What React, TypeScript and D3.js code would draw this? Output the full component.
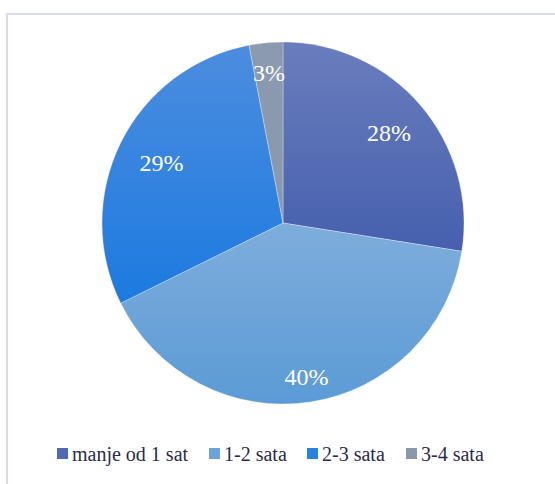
import React from "react";
import * as d3 from "d3";

const categories = ["manje od 1 sat", "1-2 sata", "2-3 sata", "3-4 sata"];
const values = [27.5, 40.2, 29.3, 3.0];
const gradTop = ["#6a7dbd", "#7eaddb", "#4c8ddf", "#8c9ab0"];
const gradBottom = ["#4660ae", "#5b9bd6", "#1c7ae0", "#8a98ae"];
const legendColors = ["#5069b4", "#6aa4d8", "#2a82e0", "#8a98ae"];

const W = 555;
const H = 484;
const cx = 283;
const cy = 223;
const R = 181;
const labelRadiusFactor = [0.77, 0.86, 0.75, 0.83];
const FONT = "Liberation Serif";

export default function App() {
  const pie = d3.pie<number>().sort(null).value((d) => d);
  const arcs = pie(values);
  const arcGen = d3.arc<d3.PieArcDatum<number>>().innerRadius(0).outerRadius(R);

  const legendX = [57, 209, 307, 406];

  return (
    <svg width={W} height={H} style={{ position: "absolute", left: 0, top: 0 }}>
      <defs>
        {categories.map((c, i) => (
          <linearGradient key={c} id={`g${i}`} x1="0" y1="0" x2="0" y2="1">
            <stop offset="0" stopColor={gradTop[i]} />
            <stop offset="1" stopColor={gradBottom[i]} />
          </linearGradient>
        ))}
      </defs>
      <rect x={0} y={0} width={W} height={H} fill="#fff" />
      <rect x={7} y={14} width={W + 10} height={H + 10} fill="none" stroke="#d8dbf0" strokeWidth={2} />
      <g transform={`translate(${cx},${cy})`}>
        {arcs.map((a, i) => (
          <path key={i} d={arcGen(a) || ""} fill={`url(#g${i})`} stroke="#ffffff" strokeOpacity={0.5} strokeWidth={0.6} />
        ))}
        {arcs.map((a, i) => {
          const r = R * labelRadiusFactor[i];
          const [x, y] = d3.arc<d3.PieArcDatum<number>>().innerRadius(r).outerRadius(r).centroid(a);
          return (
            <text key={i} x={x} y={y + 8} textAnchor="middle" fill="#ffffff" fontFamily={FONT} fontSize={24}>
              {Math.round(values[i])}%
            </text>
          );
        })}
      </g>
      {categories.map((c, i) => (
        <g key={c}>
          <rect x={legendX[i]} y={448} width={11} height={11} fill={legendColors[i]} />
          <text x={legendX[i] + 15} y={461} fill="#2a2a4e" fontFamily={FONT} fontSize={20}>
            {c}
          </text>
        </g>
      ))}
    </svg>
  );
}
